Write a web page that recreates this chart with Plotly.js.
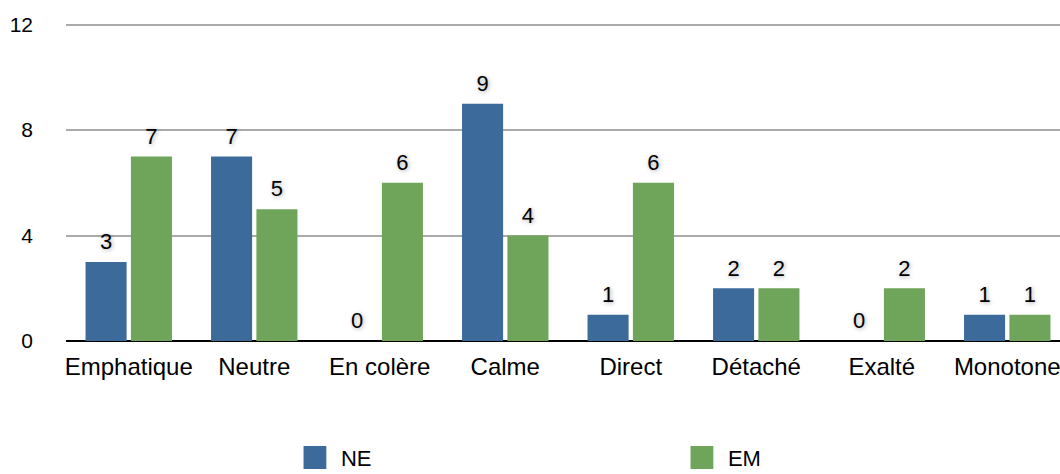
<!DOCTYPE html>
<html>
<head>
<meta charset="utf-8">
<script src="https://cdn.plot.ly/plotly-3.0.1.min.js"></script>
<style>
html,body{margin:0;padding:0;overflow:hidden;background:#fff;}
#chart{width:1070px;height:474px;}
</style>
</head>
<body>
<div id="chart"></div>
<script>
var categories = ["Emphatique", "Neutre", "En colère", "Calme", "Direct", "Détaché", "Exalté", "Monotone"];
var neValues = [3, 7, 0, 9, 1, 2, 0, 1];
var emValues = [7, 5, 6, 4, 6, 2, 2, 1];
var yTicks = [0, 4, 8, 12];

var FONT = "Liberation Sans, Arial, Helvetica, sans-serif";
var BLUE = "#3b6a9b";
var GREEN = "#6ea55b";
var labelShadow = "1px 1px 4px rgba(0,0,0,0.35)";

function barTrace(name, vals, color, og) {
  return {
    type: "bar", name: name, x: categories, y: vals,
    marker: {color: color, line: {width: 0}},
    offsetgroup: og, alignmentgroup: "a",
    hoverinfo: "skip"
  };
}
function labelTrace(vals, og) {
  return {
    type: "scatter", mode: "markers+text", x: categories, y: vals,
    text: vals.map(String), textposition: "top center",
    textfont: {family: FONT, size: 22, color: "#000", shadow: labelShadow},
    marker: {size: 10, color: "rgba(0,0,0,0)"},
    offsetgroup: og, alignmentgroup: "a",
    showlegend: false, cliponaxis: false, hoverinfo: "skip"
  };
}

var data = [
  barTrace("NE", neValues, BLUE, "ne"),
  barTrace("EM", emValues, GREEN, "em"),
  labelTrace(neValues, "ne"),
  labelTrace(emValues, "em")
];

var layout = {
  width: 1070, height: 474,
  margin: {l: 66, r: 0, t: 22, b: 133, autoexpand: false},
  paper_bgcolor: "#fff", plot_bgcolor: "#fff",
  barmode: "group", bargap: 0.277, bargroupgap: 0.095,
  scattermode: "group", scattergap: 0.277,
  font: {family: FONT, color: "#000"},
  showlegend: true,
  legend: {
    orientation: "h", x: 0.234, xanchor: "left", y: -0.30, yanchor: "top",
    font: {family: FONT, size: 22, color: "#000"},
    entrywidth: 342, entrywidthmode: "pixels", traceorder: "normal"
  },
  xaxis: {
    type: "category", showgrid: false, zeroline: false,
    showline: false, ticks: "", automargin: false,
    tickfont: {family: FONT, size: 24, color: "#000"},
    ticklabelstandoff: 9, fixedrange: true
  },
  yaxis: {
    range: [0, 12.1], tickvals: yTicks, ticktext: yTicks.map(String),
    showgrid: true, gridcolor: "#aaaaaa", gridwidth: 2,
    zeroline: true, zerolinecolor: "#000", zerolinewidth: 2.5,
    showline: false, ticks: "", automargin: false,
    tickfont: {family: FONT, size: 21, color: "#000"},
    ticklabelstandoff: 32, fixedrange: true
  },
  hovermode: false
};

Plotly.newPlot("chart", data, layout, {displayModeBar: false, staticPlot: true}).then(function () {
  var pts = document.querySelectorAll(".legend .legendpoints path");
  pts.forEach(function (p) {
    var t = p.getAttribute("transform") || "";
    p.setAttribute("transform", t + " translate(-6,0) scale(1.9)");
  });
});
</script>
</body>
</html>
